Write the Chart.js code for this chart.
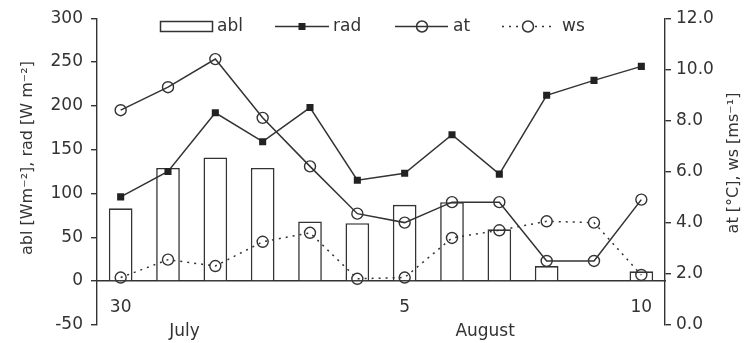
<!DOCTYPE html>
<html>
<head>
<meta charset="utf-8">
<script src="https://cdn.jsdelivr.net/npm/chart.js@4/dist/chart.umd.min.js"></script>
<style>
  html, body { margin: 0; padding: 0; background: #fff; }
  #wrap { width: 747px; height: 343px; }
</style>
</head>
<body>
<div id="wrap"><canvas id="c"></canvas></div>
<script>
var days = ["30", "31", "1", "2", "3", "4", "5", "6", "7", "8", "9", "10"];
var shownTicks = ["30", "5", "10"];
var months = ["July", "August"];
var abl = [83, 129, 141, 129, 68, 66, 87, 90, 59, 17, null, 11];
var rad = [96, 125, 192, 159, 198, 115, 123, 167, 122, 212, 229, 245];
var at = [8.4, 9.3, 10.4, 8.1, 6.2, 4.35, 4.0, 4.8, 4.8, 2.5, 2.5, 4.9];
var ws = [1.85, 2.55, 2.3, 3.25, 3.6, 1.8, 1.85, 3.4, 3.7, 4.05, 4.0, 1.95];

var ink = "#333";
Chart.defaults.font.family = "'DejaVu Sans', sans-serif";
Chart.defaults.font.size = 17;
Chart.defaults.color = ink;

// month names under the day ticks, axis titles and the legend row
var extras = {
  id: "extras",
  afterDraw: function (chart) {
    var ctx = chart.ctx;
    var x = chart.scales.x;
    ctx.save();
    ctx.fillStyle = ink;
    ctx.font = "17px 'DejaVu Sans'";
    ctx.textAlign = "center";
    ctx.textBaseline = "middle";
    var monthAt = [1.35, 7.7];
    months.forEach(function (m, i) {
      ctx.fillText(m, x.getPixelForValue(monthAt[i]), 332);
    });

    ctx.font = "16px 'DejaVu Sans'";
    ctx.save();
    ctx.translate(28, 158);
    ctx.rotate(-Math.PI / 2);
    ctx.fillText("abl [Wm\u207B\u00B2], rad [W m\u207B\u00B2]", 0, 0);
    ctx.restore();
    ctx.save();
    ctx.translate(734, 163);
    ctx.rotate(-Math.PI / 2);
    ctx.fillText("at [\u00B0C], ws [ms\u207B\u00B9]", 0, 0);
    ctx.restore();

    // legend
    ctx.font = "17px 'DejaVu Sans'";
    var y = 26.5;
    ctx.strokeStyle = ink;
    ctx.lineWidth = 1.5;
    ctx.textAlign = "left";
    ctx.strokeRect(160.5, 21.5, 52, 10);
    ctx.fillText("abl", 217, y);

    ctx.beginPath(); ctx.moveTo(275, y); ctx.lineTo(329, y); ctx.stroke();
    ctx.fillStyle = "#222";
    ctx.fillRect(298.5, y - 3.5, 7, 7);
    ctx.fillStyle = ink;
    ctx.fillText("rad", 333, y);

    ctx.beginPath(); ctx.moveTo(395, y); ctx.lineTo(448, y); ctx.stroke();
    ctx.beginPath(); ctx.arc(422, y, 5.5, 0, Math.PI * 2); ctx.stroke();
    ctx.fillText("at", 453, y);

    ctx.setLineDash([2, 5]);
    ctx.beginPath(); ctx.moveTo(502, y); ctx.lineTo(521, y); ctx.stroke();
    ctx.beginPath(); ctx.moveTo(535, y); ctx.lineTo(554, y); ctx.stroke();
    ctx.setLineDash([]);
    ctx.beginPath(); ctx.arc(528, y, 5.5, 0, Math.PI * 2); ctx.stroke();
    ctx.fillText("ws", 562, y);
    ctx.restore();
  }
};

new Chart(document.getElementById("c"), {
  data: {
    labels: days,
    datasets: [
      {
        type: "bar",
        label: "abl",
        data: abl,
        backgroundColor: "#fff",
        borderColor: ink,
        borderWidth: 1.6,
        categoryPercentage: 1,
        barPercentage: 0.5,
        yAxisID: "y",
        order: 5
      },
      {
        type: "line",
        label: "rad",
        data: rad,
        borderColor: ink,
        borderWidth: 1.5,
        pointStyle: "rect",
        pointRadius: 5,
        pointBackgroundColor: "#222",
        pointBorderColor: "#222",
        pointBorderWidth: 0,
        tension: 0,
        yAxisID: "y",
        order: 1
      },
      {
        type: "line",
        label: "at",
        data: at,
        borderColor: ink,
        borderWidth: 1.5,
        pointStyle: "circle",
        pointRadius: 5.5,
        pointBackgroundColor: "rgba(0,0,0,0)",
        pointBorderColor: ink,
        pointBorderWidth: 1.4,
        tension: 0,
        yAxisID: "y1",
        order: 2
      },
      {
        type: "line",
        label: "ws",
        data: ws,
        borderColor: ink,
        borderWidth: 1.5,
        borderDash: [2, 5],
        pointStyle: "circle",
        pointRadius: 5.5,
        pointBackgroundColor: "rgba(0,0,0,0)",
        pointBorderColor: ink,
        pointBorderWidth: 1.4,
        tension: 0,
        yAxisID: "y1",
        order: 3
      }
    ]
  },
  options: {
    responsive: true,
    maintainAspectRatio: false,
    animation: false,
    layout: { padding: { top: 17, bottom: 15, left: 0, right: 0 } },
    plugins: { legend: { display: false }, tooltip: { enabled: false } },
    scales: {
      x: {
        type: "category",
        position: { y: 0 },
        grid: { display: false, drawTicks: false },
        border: { display: true, color: ink, width: 1.5 },
        ticks: {
          padding: 16,
          maxRotation: 0,
          autoSkip: false,
          callback: function (v) {
            var l = days[v];
            return shownTicks.indexOf(l) >= 0 ? l : "";
          }
        }
      },
      y: {
        position: "left",
        min: -50,
        max: 300,
        ticks: { stepSize: 50, padding: 8 },
        grid: { drawOnChartArea: false, tickLength: 6, color: ink, lineWidth: 1.4 },
        border: { color: ink, width: 1.4 },
        afterFit: function (s) { s.width = 97; }
      },
      y1: {
        position: "right",
        min: 0,
        max: 12,
        ticks: {
          stepSize: 2,
          padding: 5,
          callback: function (v) { return v.toFixed(1); }
        },
        grid: { drawOnChartArea: false, tickLength: 6, color: ink, lineWidth: 1.4 },
        border: { color: ink, width: 1.4 },
        afterFit: function (s) { s.width = 82; }
      }
    }
  },
  plugins: [extras]
});
</script>
</body>
</html>
